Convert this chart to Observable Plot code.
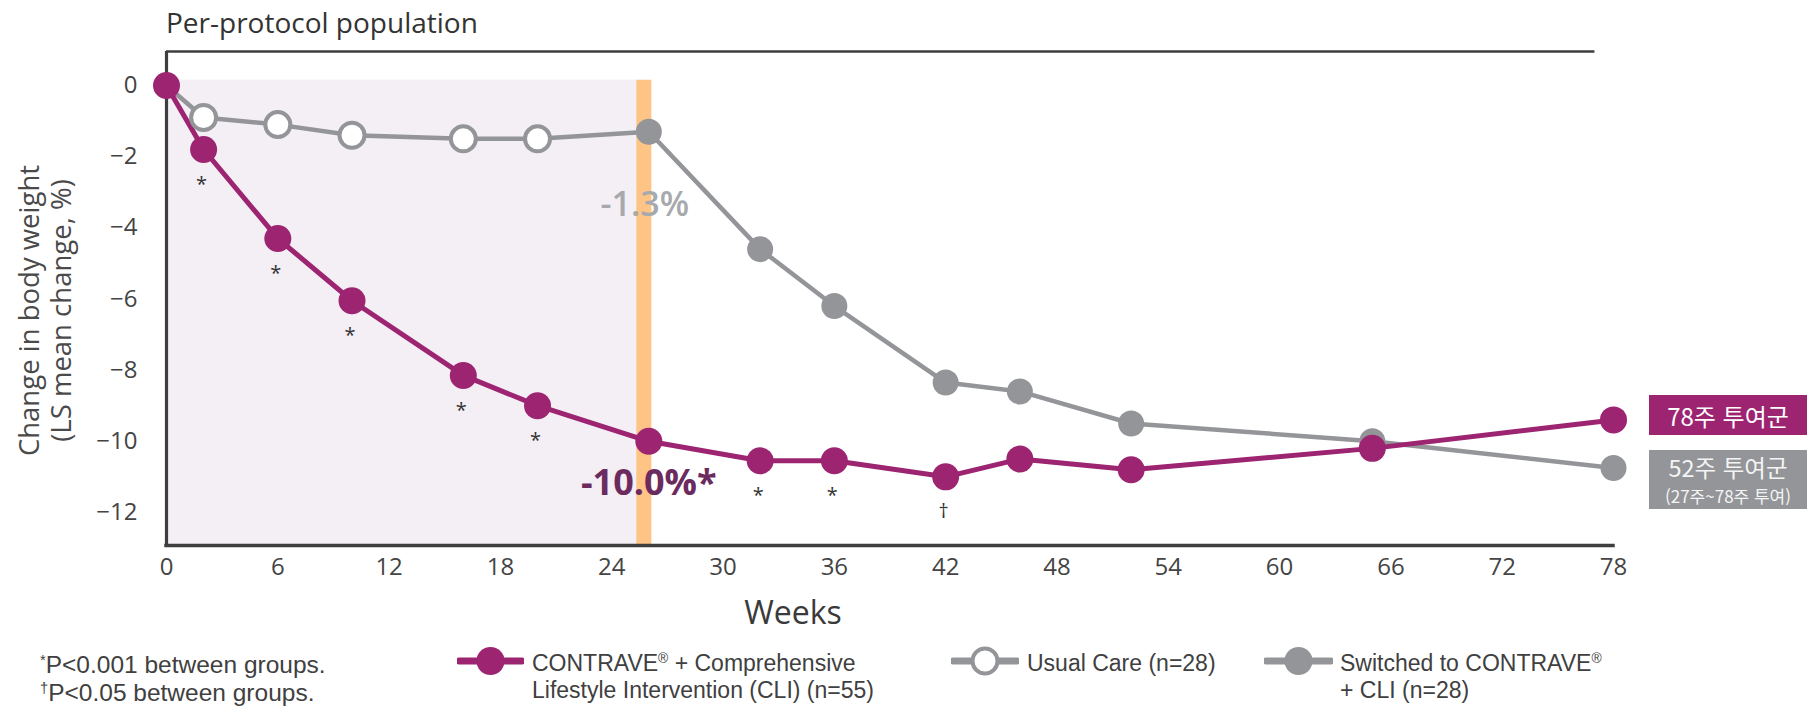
<!DOCTYPE html>
<html lang="ko">
<head>
<meta charset="utf-8">
<title>Per-protocol population</title>
<script src="https://cdn.jsdelivr.net/npm/d3@7"></script>
<script src="https://cdn.jsdelivr.net/npm/@observablehq/plot@0.6"></script>
<style>
  html, body { margin: 0; background: #fff; }
  #figure { position: relative; width: 1819px; height: 714px; overflow: hidden;
            font-family: "Open Sans", "Noto Sans", sans-serif; color: #404040; }
  #figure > svg { position: absolute; left: 0; top: 0; }
  .abs { position: absolute; white-space: nowrap; }
  .abs sup { font-size: 60%; line-height: 0; vertical-align: 0.55em; }
  .endbox { position: absolute; color: #fff; box-sizing: border-box; display: flex;
            flex-direction: column; align-items: center; justify-content: flex-start;
            font-family: "Noto Sans CJK KR", "Noto Sans", sans-serif; }
  .endbox span { display: block; white-space: nowrap; }
</style>
</head>
<body>
<div id="figure"></div>
<script>
// LS mean change in body weight (%) by study week, per-protocol population
const weeksCLI   = [0, 2, 6, 10, 16, 20, 26, 32, 36, 42, 46, 52, 65, 78];
const changeCLI  = [0, -1.8, -4.3, -6.05, -8.15, -9.0, -10.0, -10.55, -10.55, -11.0, -10.5, -10.8, -10.2, -9.4];
const signifCLI  = ["", "*", "*", "*", "*", "*", "", "*", "*", "†", "", "", "", ""];

const weeksUsual  = [0, 2, 6, 10, 16, 20, 26];
const changeUsual = [0, -0.9, -1.1, -1.4, -1.5, -1.5, -1.3];

const weeksSwitched  = [26, 32, 36, 42, 46, 52, 65, 78];
const changeSwitched = [-1.3, -4.6, -6.2, -8.35, -8.6, -9.5, -10.0, -10.75];

const switchWeek  = 26;
const weekTicks   = [0, 6, 12, 18, 24, 30, 36, 42, 48, 54, 60, 66, 72, 78];
const changeTicks = [0, -2, -4, -6, -8, -10, -12];

const titleText   = "Per-protocol population";
const xTitle      = "Weeks";
const yTitle      = ["Change in body weight", "(LS mean change, %)"];
const legendLines = [
  ["CONTRAVE® + Comprehensive", "Lifestyle Intervention (CLI) (n=55)"],
  ["Usual Care (n=28)"],
  ["Switched to CONTRAVE®", "+ CLI (n=28)"]
];
const footMarks   = ["*", "†"];
const footTexts   = ["P<0.001 between groups.", "P<0.05 between groups."];
const endLabelCLI = ["78주 투여군"];
const endLabelSw  = ["52주 투여군", "(27주~78주 투여)"];

// palette
const purple = "#9c2471", gray = "#939598", labelGray = "#a7a9ac", deepPurple = "#6c2b5e";
const shade = "#f4eef5", orange = "#fdc486", ink = "#3e3e3e";

// tables built from the arrays
const cli      = weeksCLI.map((week, i) => ({week, change: changeCLI[i], mark: signifCLI[i]}));
const usual    = weeksUsual.map((week, i) => ({week, change: changeUsual[i]}));
const switched = weeksSwitched.map((week, i) => ({week, change: changeSwitched[i]}));
const grayPath = usual.concat(switched.slice(1));
const openDots = usual.filter(d => d.week > 0 && d.week < switchWeek);
const atSwitchCLI = cli.find(d => d.week === switchWeek);
const atSwitchUC  = switched.find(d => d.week === switchWeek);

// y extent: a little below -12 and room above 0 for the bracket
const yMin = -12.93, yMax = 0.955, shadeTop = 0.15, bracketEnd = 77;

const chart = Plot.plot({
  width: 1819, height: 600,
  marginTop: 51, marginBottom: 55, marginLeft: 166, marginRight: 206,
  x: {domain: [0, 78]},
  y: {domain: [yMin, yMax]},
  style: {fontFamily: "'Open Sans', 'Noto Sans', sans-serif", color: ink, background: "transparent", overflow: "visible"},
  marks: [
    // first 26-week phase
    Plot.rect([{a: 0, b: switchWeek}], {x1: "a", x2: "b", y1: yMin, y2: shadeTop, fill: shade}),
    Plot.ruleX([switchWeek], {y1: yMin, y2: shadeTop, stroke: orange, strokeWidth: 15, dx: -5}),
    // frame: left axis, bottom axis, top bracket
    Plot.ruleX([0], {y1: yMin, y2: yMax, stroke: ink, strokeWidth: 3.2}),
    Plot.ruleY([yMin], {x1: 0, x2: 78, stroke: ink, strokeWidth: 3.5, strokeLinecap: "square"}),
    Plot.ruleY([yMax], {x1: 0, x2: bracketEnd, stroke: ink, strokeWidth: 2.6}),
    // series
    Plot.line(grayPath, {x: "week", y: "change", stroke: gray, strokeWidth: 4.5}),
    Plot.line(cli, {x: "week", y: "change", stroke: purple, strokeWidth: 5}),
    Plot.dot(switched, {x: "week", y: "change", r: 13, fill: gray}),
    Plot.dot(openDots, {x: "week", y: "change", r: 12.5, fill: "#fff", stroke: gray, strokeWidth: 4}),
    Plot.dot(cli, {x: "week", y: "change", r: 13.5, fill: purple}),
    // significance marks under the CLI points
    Plot.text(cli.filter(d => d.mark), {x: "week", y: "change", text: "mark", dy: 35, dx: -2, fontSize: 20, fill: "#333"}),
    // values at week 26
    Plot.text([atSwitchUC], {x: "week", y: "change", text: d => `${d.change.toFixed(1)}%`, dy: 73, dx: -4,
      fontSize: 34, fontWeight: 600, fill: labelGray}),
    Plot.text([atSwitchCLI], {x: "week", y: "change", text: d => `${d.change.toFixed(1)}%*`, dy: 42, dx: 0,
      fontSize: 36, fontWeight: 700, fill: deepPurple}),
    // axes
    Plot.axisX(weekTicks, {tickSize: 0, tickPadding: 12, fontSize: 24, label: null, fill: "#444"}),
    Plot.axisY(changeTicks, {tickSize: 0, tickPadding: 29, fontSize: 24, label: null, fill: "#444"}),
    Plot.text([xTitle], {frameAnchor: "bottom", dx: -97, dy: 78, fontSize: 32, fill: "#3a3a3a"}),
    Plot.text([yTitle.join("\n")], {frameAnchor: "left", textAnchor: "middle", rotate: -90, dx: -122, dy: 12,
      fontSize: 27.5, lineHeight: 1.17, fill: "#4a4a4a"})
  ]
});

const fig = document.getElementById("figure");
fig.appendChild(chart);

// place a text block so that the first line's cap-height middle sits at cy;
// m = [ascent, descent, capHeight] of the font in em
const OPEN = [1.069, 0.293, 0.714], LIB = [0.905, 0.212, 0.716];
function place(html, left, cy, size, lead, m, extra = "") {
  const el = document.createElement("div");
  el.className = "abs";
  const top = cy - (lead - (m[0] + m[1]) * size) / 2 - (m[0] - m[2] / 2) * size;
  el.style.cssText = `left:${left}px;top:${top}px;font-size:${size}px;line-height:${lead}px;${extra}`;
  el.innerHTML = html;
  fig.appendChild(el);
  return el;
}
const sup = s => s.replace(/®/g, "<sup>®</sup>");
const sideFont = "font-family:'Liberation Sans', Arial, sans-serif;";

place(titleText, 166, 23, 28, 38, OPEN, "color:#333;");

place(footTexts.map((t, i) => `<sup>${footMarks[i]}</sup>${t}`).join("<br>"), 40, 665, 24.5, 28, LIB, sideFont);

// legend
const legendX = [[459, 522, 532], [953, 1017, 1027], [1266, 1331, 1340]];
const legendStyle = [
  {stroke: purple, fill: purple, sw: 0},
  {stroke: gray, fill: "#fff", sw: 4},
  {stroke: gray, fill: gray, sw: 0}
];
legendLines.forEach((lines, i) => {
  const [x0, x1, tx] = legendX[i];
  const st = legendStyle[i];
  const cy = 661, r = st.sw ? 12.5 : 14;
  const svg = d3.create("svg").attr("width", x1 - x0 + 4).attr("height", 40)
    .style("position", "absolute").style("left", `${x0 - 2}px`).style("top", `${cy - 20}px`);
  svg.append("line").attr("x1", 2).attr("x2", x1 - x0 + 2).attr("y1", 20).attr("y2", 20)
    .attr("stroke", st.stroke).attr("stroke-width", 7).attr("stroke-linecap", "round");
  svg.append("circle").attr("cx", (x1 - x0) / 2 + 2).attr("cy", 20).attr("r", r)
    .attr("fill", st.fill).attr("stroke", st.stroke).attr("stroke-width", st.sw);
  fig.appendChild(svg.node());
  place(lines.map(sup).join("<br>"), tx, 663, 23, 27, LIB, sideFont);
});

// end-of-study labels, aligned to the week-78 values
const y = chart.scale("y");
const xEnd = 1649, boxW = 158;
const endCLI = cli[cli.length - 1].change, endSw = switched[switched.length - 1].change;

const b1 = document.createElement("div");
b1.className = "endbox";
b1.style.cssText = `left:${xEnd}px;top:${y.apply(endCLI) - 24}px;width:${boxW}px;height:40px;justify-content:center;background:${purple};`;
b1.innerHTML = `<span style="font-size:24px;line-height:35px">${endLabelCLI[0]}</span>`;
fig.appendChild(b1);

const b2 = document.createElement("div");
b2.className = "endbox";
b2.style.cssText = `left:${xEnd}px;top:${y.apply(endSw) - 17}px;width:${boxW}px;height:59px;background:${gray};color:#f4f4f4;`;
b2.innerHTML = `<span style="font-size:23.5px;line-height:34px">${endLabelSw[0]}</span>` +
               `<span style="font-size:17px;line-height:24.6px">${endLabelSw[1]}</span>`;
fig.appendChild(b2);
</script>
</body>
</html>
